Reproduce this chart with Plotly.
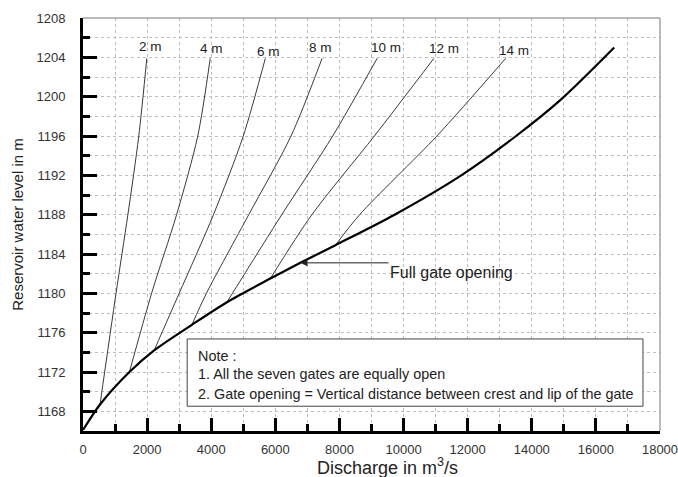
import plotly.graph_objects as go

# ---- data ----
full_q = [0, 531, 1448, 2219, 3396, 4490, 5844, 6781, 7875, 9720, 11800, 13510, 14906, 16572]
full_h = [1166.1, 1168.7, 1172.0, 1174.2, 1176.8, 1179.1, 1181.5, 1183.1, 1184.9, 1188.0, 1192.0, 1196.0, 1199.7, 1205.0]

gate_labels = ["2 m", "4 m", "6 m", "8 m", "10 m", "12 m", "14 m"]
q_2m = [531, 1030, 1400, 1740, 1990]
h_2m = [1168.7, 1180.0, 1188.0, 1196.0, 1203.9]
q_4m = [1448, 2140, 2920, 3580, 3969]
h_4m = [1172.0, 1180.0, 1188.0, 1196.0, 1203.9]
q_6m = [2219, 3000, 4070, 5000, 5688]
h_6m = [1174.2, 1180.0, 1188.0, 1196.0, 1203.9]
q_8m = [3396, 3850, 5170, 6490, 7459]
h_8m = [1176.8, 1180.0, 1188.0, 1196.0, 1203.9]
q_10m = [4490, 6200, 7790, 9177]
h_10m = [1179.1, 1188.0, 1196.0, 1203.9]
q_12m = [5844, 7140, 9090, 10948]
h_12m = [1181.5, 1188.0, 1196.0, 1203.9]
q_14m = [7875, 8630, 11040, 13188]
h_14m = [1184.9, 1188.0, 1196.0, 1203.9]

label_q = [2094, 4022, 5781, 7406, 9438, 11260, 13448]
label_h = [1205.15, 1204.9, 1204.6, 1205.0, 1205.0, 1204.9, 1204.7]

x_ticks = list(range(0, 18001, 2000))
y_ticks = list(range(1168, 1209, 4))

note_lines = ["Note :",
              "1. All the seven gates are equally open",
              "2. Gate opening = Vertical distance between crest and lip of the gate"]
note_y = [1173.6, 1171.8, 1169.8]
arrow_text = "Full gate opening"
x_title = "Discharge in m<sup>3</sup>/s"
y_title = "Reservoir water level in m"

x_range = [0, 18000]
y_range = [1166, 1208]

FONT = "Arial, Liberation Sans, sans-serif"

fig = go.Figure()

gates = [(q_2m, h_2m), (q_4m, h_4m), (q_6m, h_6m), (q_8m, h_8m),
         (q_10m, h_10m), (q_12m, h_12m), (q_14m, h_14m)]
for (q, h), name in zip(gates, gate_labels):
    fig.add_trace(go.Scatter(x=q, y=h, mode="lines", name=name,
                             line=dict(color="#3a3a3a", width=1, shape="spline", smoothing=0.8),
                             showlegend=False, hoverinfo="skip"))

fig.add_trace(go.Scatter(x=full_q, y=full_h, mode="lines", name="Full gate opening",
                         line=dict(color="black", width=2.2, shape="spline", smoothing=0.8),
                         showlegend=False))

for q, h, t in zip(label_q, label_h, gate_labels):
    fig.add_annotation(x=q, y=h, text=t, showarrow=False,
                       font=dict(family=FONT, size=13.5, color="#222"))

# arrow pointing to the full gate opening curve
fig.add_annotation(x=6781, y=1183.1, ax=9531, ay=1183.1, axref="x", ayref="y",
                   text=arrow_text, xanchor="left", yanchor="top", borderpad=0,
                   showarrow=True, arrowhead=2, arrowsize=1.4,
                   arrowwidth=1, arrowcolor="#222",
                   font=dict(family=FONT, size=16, color="#222"))

# note box
fig.add_shape(type="rect", x0=3250, x1=17469, y0=1168.52, y1=1175.36,
              line=dict(color="#444", width=1), fillcolor="white", layer="above")
for t, yy in zip(note_lines, note_y):
    fig.add_annotation(x=3531, y=yy, text=t, showarrow=False, xanchor="left",
                       font=dict(family=FONT, size=14.4, color="#222"))

# x axis title (placed slightly right of centre, as in the reference)
fig.add_annotation(xref="paper", yref="paper", x=0.527, y=-0.087, yanchor="middle",
                   text=x_title, showarrow=False,
                   font=dict(family=FONT, size=18, color="#222"))

# top/right thin borders
fig.add_shape(type="line", xref="paper", yref="paper", x0=0, x1=1, y0=1, y1=1,
              line=dict(color="#777", width=1))
fig.add_shape(type="line", xref="paper", yref="paper", x0=1, x1=1, y0=0, y1=1,
              line=dict(color="#777", width=1))

grid = dict(showgrid=True, gridcolor="#bdbdbd", gridwidth=1, griddash="dot")
fig.update_xaxes(range=x_range, tickmode="array", tickvals=x_ticks,
                 ticktext=[str(v) for v in x_ticks], ticklabeloverflow="allow",
                 automargin=False,
                 showline=True, linewidth=3,
                 linecolor="black", ticks="inside", ticklen=13, tickwidth=3,
                 tickcolor="black", zeroline=False, ticklabelstandoff=4,
                 tickfont=dict(family=FONT, size=13, color="#333"),
                 minor=dict(dtick=1000, tick0=0, ticks="inside", ticklen=7, tickwidth=3,
                            tickcolor="black", **grid),
                 **grid)
fig.update_yaxes(range=y_range, tickmode="array", tickvals=y_ticks,
                 ticktext=[str(v) for v in y_ticks], automargin=False,
                 showline=True, linewidth=3,
                 linecolor="black", ticks="inside", ticklen=14, tickwidth=3,
                 tickcolor="black", zeroline=False, ticklabelstandoff=12,
                 tickfont=dict(family=FONT, size=13, color="#333"),
                 title=dict(text=y_title, standoff=10,
                            font=dict(family=FONT, size=15, color="#222")),
                 minor=dict(dtick=2, tick0=1166, ticks="inside", ticklen=7, tickwidth=3,
                            tickcolor="black", **grid),
                 **grid)

fig.update_layout(width=678, height=477, margin=dict(l=83, r=18, t=18, b=46),
                  plot_bgcolor="white", paper_bgcolor="white", showlegend=False)

fig.write_html("out.html")
